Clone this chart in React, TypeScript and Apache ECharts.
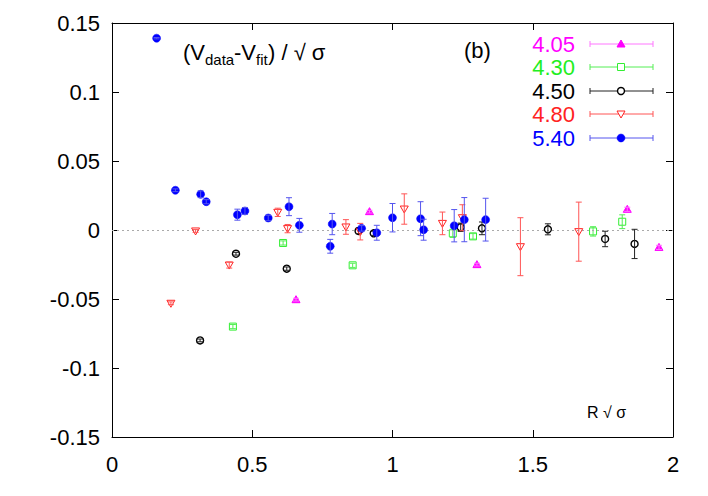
import React, { useEffect, useRef } from "react";
import * as echarts from "echarts";

// ---- data ----
const seriesNames = ["4.05", "4.30", "4.50", "4.80", "5.40"];

const x405 = [0.656, 0.918, 1.301, 1.837, 1.95];
const y405 = [-0.0505, 0.0133, -0.0251, 0.015, -0.0126];
const e405 = [0.001, 0.001, 0.001, 0.0015, 0.0015];

const x430 = [0.431, 0.61, 0.858, 1.215, 1.287, 1.715, 1.819];
const y430 = [-0.07, -0.0094, -0.0256, -0.0024, -0.0046, -0.001, 0.006];
const e430 = [0.0015, 0.0015, 0.0015, 0.003, 0.002, 0.0034, 0.005];

const x450 = [0.314, 0.442, 0.623, 0.879, 0.933, 1.243, 1.319, 1.554, 1.758, 1.863];
const y450 = [-0.08, -0.0172, -0.028, -0.0007, -0.0024, 0.002, 0.0012, 0.0005, -0.0065, -0.0101];
const e450 = [0.001, 0.001, 0.0012, 0.002, 0.0015, 0.003, 0.0046, 0.004, 0.0056, 0.0106];

const x480 = [0.21, 0.298, 0.418, 0.591, 0.626, 0.834, 0.885, 1.042, 1.178, 1.249, 1.456, 1.664];
const y480 = [-0.0531, -0.0007, -0.0254, 0.0128, 0.001, 0.0022, -0.0012, 0.0152, 0.0048, 0.0089, -0.0121, -0.0012];
const e480 = [0.001, 0.001, 0.0022, 0.003, 0.003, 0.0053, 0.006, 0.011, 0.0082, 0.0094, 0.021, 0.0214];

const x540 = [0.159, 0.226, 0.316, 0.336, 0.447, 0.474, 0.557, 0.631, 0.668, 0.778, 0.785, 0.89, 0.944, 1.0, 1.1, 1.111, 1.22, 1.256, 1.332];
const y540 = [0.139, 0.0288, 0.0259, 0.0205, 0.0111, 0.0138, 0.0087, 0.0169, 0.0034, -0.0118, 0.0043, 0.0012, -0.002, 0.0089, 0.0082, 0.0002, 0.0031, 0.0075, 0.0075];
const e540 = [0.0005, 0.001, 0.0024, 0.0015, 0.004, 0.0025, 0.002, 0.0065, 0.005, 0.005, 0.0077, 0.002, 0.0054, 0.0103, 0.0123, 0.0076, 0.0117, 0.016, 0.0155];

const FONT = '"Liberation Sans", Arial, Helvetica, sans-serif';

type Marker = "triUp" | "square" | "circle" | "triDown" | "dot";

const styles: { marker: Marker; color: string; bar: string }[] = [
  { marker: "triUp", color: "#ff00ff", bar: "#ff77ff" },
  { marker: "square", color: "#33ee33", bar: "#55ee55" },
  { marker: "circle", color: "#000000", bar: "#222222" },
  { marker: "triDown", color: "#ff2222", bar: "#ff5555" },
  { marker: "dot", color: "#0000ff", bar: "#5555ee" },
];

const allX = [x405, x430, x450, x480, x540];
const allY = [y405, y430, y450, y480, y540];
const allE = [e405, e430, e450, e480, e540];

function markerShape(m: Marker, cx: number, cy: number, color: string): any {
  switch (m) {
    case "triUp":
      return {
        type: "polygon",
        shape: { points: [[cx - 4, cy + 3], [cx + 4, cy + 3], [cx, cy - 4]] },
        style: { fill: color, stroke: color, lineWidth: 1 },
      };
    case "triDown":
      return {
        type: "polygon",
        shape: { points: [[cx - 4, cy - 3], [cx + 4, cy - 3], [cx, cy + 4]] },
        style: { fill: "none", stroke: color, lineWidth: 1 },
      };
    case "square":
      return {
        type: "rect",
        shape: { x: cx - 3.5, y: cy - 3.5, width: 7, height: 7 },
        style: { fill: "none", stroke: color, lineWidth: 1 },
      };
    case "circle":
      return {
        type: "circle",
        shape: { cx, cy, r: 3.5 },
        style: { fill: "none", stroke: color, lineWidth: 1.4 },
      };
    default:
      return {
        type: "circle",
        shape: { cx, cy, r: 4 },
        style: { fill: color, stroke: color, lineWidth: 0.5 },
      };
  }
}

function errorBarV(cx: number, y1: number, y2: number, color: string, cap = 3): any[] {
  return [
    { type: "line", shape: { x1: cx, y1, x2: cx, y2 }, style: { stroke: color, lineWidth: 1 } },
    { type: "line", shape: { x1: cx - cap, y1, x2: cx + cap, y2: y1 }, style: { stroke: color, lineWidth: 1 } },
    { type: "line", shape: { x1: cx - cap, y1: y2, x2: cx + cap, y2 }, style: { stroke: color, lineWidth: 1 } },
  ];
}

function makeRender(si: number) {
  const st = styles[si];
  return (_params: any, api: any) => {
    const x = api.value(0);
    const y = api.value(1);
    const e = api.value(2);
    const p = api.coord([x, y]);
    const t = api.coord([x, y + e]);
    const b = api.coord([x, y - e]);
    const children: any[] = [];
    children.push(markerShape(st.marker, p[0], p[1], st.color));
    if (b[1] - t[1] > 1) children.push(...errorBarV(p[0], t[1], b[1], st.bar));
    return { type: "group", children };
  };
}

function legendGraphics(): any[] {
  const out: any[] = [];
  const rows = [44, 67, 91, 114, 138];
  seriesNames.forEach((name, i) => {
    const st = styles[i];
    const y = rows[i];
    out.push({
      type: "text",
      x: 575,
      y,
      style: { text: name, fill: st.color === "#33ee33" ? "#22ee22" : st.color, font: `22px ${FONT}`, align: "right", verticalAlign: "middle" },
    });
    out.push({ type: "line", shape: { x1: 590, y1: y, x2: 653, y2: y }, style: { stroke: st.bar, lineWidth: 1 } });
    out.push({ type: "line", shape: { x1: 590, y1: y - 3, x2: 590, y2: y + 3 }, style: { stroke: st.bar, lineWidth: 1 } });
    out.push({ type: "line", shape: { x1: 653, y1: y - 3, x2: 653, y2: y + 3 }, style: { stroke: st.bar, lineWidth: 1 } });
    const m = markerShape(st.marker, 621, y, st.color);
    if (m.style.fill === "none") m.style.fill = "#fff";
    out.push(m);
  });
  return out;
}

export default function App() {
  const ref = useRef<HTMLDivElement>(null);
  useEffect(() => {
    document.body.style.margin = "0";
    if (!ref.current) return;
    const chart = echarts.init(ref.current, null, { renderer: "svg" });
    const axisLabelStyle = { fontFamily: FONT, fontSize: 22, color: "#000" };
    const axisLine = { onZero: false, lineStyle: { color: "#000", width: 1 } };
    const axisTick = { inside: true, length: 7, lineStyle: { color: "#000" } };
    const series: any[] = seriesNames.map((name, si) => ({
      type: "custom",
      name,
      clip: false,
      renderItem: makeRender(si),
      data: allX[si].map((x, i) => [x, allY[si][i], allE[si][i]]),
      z: 3 + si,
    }));
    series.push({
      type: "line",
      data: [],
      silent: true,
      z: 1,
      markLine: {
        silent: true,
        symbol: "none",
        label: { show: false },
        lineStyle: { color: "#aaaaaa", type: [2, 3], width: 1 },
        data: [{ yAxis: 0 }],
      },
    });
    chart.setOption({
      animation: false,
      backgroundColor: "#fff",
      grid: { left: 112, top: 23, right: 35, bottom: 59, containLabel: false },
      xAxis: [
        {
          type: "value",
          min: 0,
          max: 2,
          interval: 0.5,
          position: "bottom",
          axisLine,
          axisTick,
          axisLabel: { ...axisLabelStyle, margin: 16, formatter: (v: number) => String(+v.toFixed(2)) },
          splitLine: { show: false },
        },
        {
          type: "value",
          min: 0,
          max: 2,
          interval: 0.5,
          position: "top",
          axisLine,
          axisTick,
          axisLabel: { show: false },
          splitLine: { show: false },
        },
      ],
      yAxis: [
        {
          type: "value",
          min: -0.15,
          max: 0.15,
          interval: 0.05,
          position: "left",
          axisLine,
          axisTick,
          axisLabel: { ...axisLabelStyle, margin: 12, formatter: (v: number) => String(+v.toFixed(2)) },
          splitLine: { show: false },
        },
        {
          type: "value",
          min: -0.15,
          max: 0.15,
          interval: 0.05,
          position: "right",
          axisLine,
          axisTick,
          axisLabel: { show: false },
          splitLine: { show: false },
        },
      ],
      series,
      graphic: [
        { type: "text", x: 183, y: 52, style: { text: "(V", font: `22px ${FONT}`, fill: "#000", verticalAlign: "middle" } },
        { type: "text", x: 205, y: 59, style: { text: "data", font: `15px ${FONT}`, fill: "#000", verticalAlign: "middle" } },
        { type: "text", x: 234, y: 52, style: { text: "-V", font: `22px ${FONT}`, fill: "#000", verticalAlign: "middle" } },
        { type: "text", x: 256, y: 59, style: { text: "fit", font: `15px ${FONT}`, fill: "#000", verticalAlign: "middle" } },
        { type: "text", x: 268, y: 52, style: { text: ") / \u221A \u03C3", font: `22px ${FONT}`, fill: "#000", verticalAlign: "middle" } },
        { type: "text", x: 464, y: 50, style: { text: "(b)", font: `22px ${FONT}`, fill: "#000", verticalAlign: "middle" } },
        { type: "text", x: 587, y: 412, style: { text: "R \u221A \u03C3", font: `16px ${FONT}`, fill: "#000", verticalAlign: "middle" } },
        ...legendGraphics(),
      ],
    });
    return () => chart.dispose();
  }, []);
  return <div ref={ref} style={{ width: 708, height: 496 }} />;
}
